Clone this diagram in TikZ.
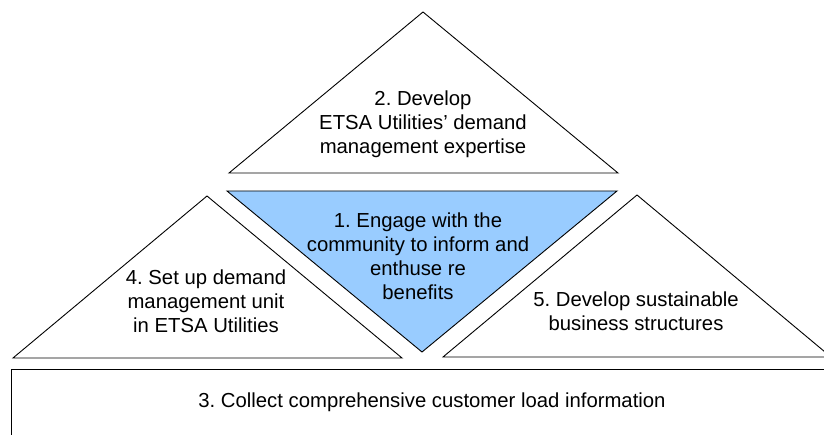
\documentclass[tikz,border=0pt]{standalone}
\usepackage{fontspec}
\setmainfont{Liberation Sans}
\frenchspacing
\definecolor{lightblue}{HTML}{99CCFF}
\begin{document}
\begin{tikzpicture}[x=1pt,y=-1pt,
  shapeline/.style={draw=black,line width=0.9pt,line join=miter},
  lbl/.style={align=center,font=\fontsize{20.3}{24}\selectfont\frenchspacing,inner sep=0pt}]
\useasboundingbox (0,0) rectangle (824,435);
\clip (0,0) rectangle (824,435);
% coordinates
\coordinate (tA) at (423,12);  \coordinate (tL) at (229,173); \coordinate (tR) at (618,173);
\coordinate (bL) at (227,191); \coordinate (bR) at (617,191); \coordinate (bA) at (422,352);
\coordinate (lA) at (207,196); \coordinate (lL) at (13,358);  \coordinate (lR) at (402,358);
\coordinate (rA) at (637,195); \coordinate (rL) at (443,357); \coordinate (rR) at (831,357);
\coordinate (qTL) at (11,369); \coordinate (qBR) at (845,450);
% shapes
\draw[shapeline] (tA) -- (tL) -- (tR) -- cycle;
\draw[shapeline,fill=lightblue] (bL) -- (bR) -- (bA) -- cycle;
\draw[shapeline] (lA) -- (lL) -- (lR) -- cycle;
\draw[shapeline] (rA) -- (rL) -- (rR) -- cycle;
\draw[shapeline] (qTL) rectangle (qBR);
% labels
\node[lbl] (n2) at (423,124) {2. Develop\\ETSA Utilities' demand\\management expertise};
\node[lbl] (n1) at (418,256) {1. Engage with the\\community to inform and\\enthuse re\\benefits};
\node[lbl] (n4) at (206,301) {4. Set up demand\\management unit\\in ETSA Utilities};
\node[lbl] (n5) at (636,311) {5. Develop sustainable\\business structures};
\node[lbl] (n3) at (432,402) {3. Collect comprehensive customer load information};
\end{tikzpicture}
\end{document}
